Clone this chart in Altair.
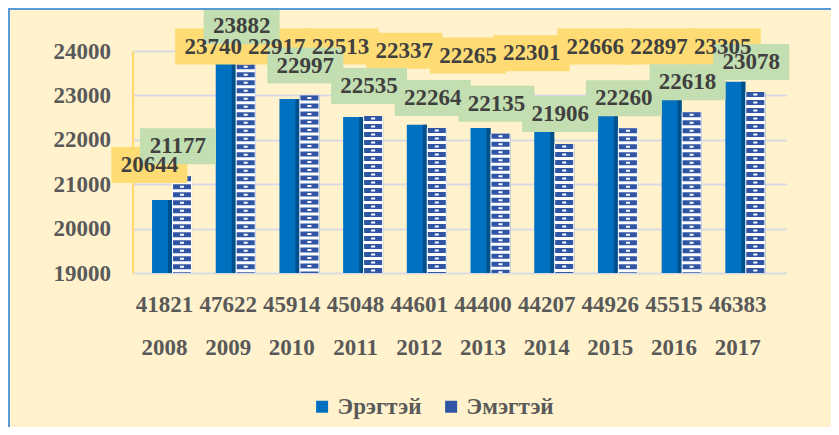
import altair as alt
import pandas as pd

years = ["2008", "2009", "2010", "2011", "2012", "2013", "2014", "2015", "2016", "2017"]
totals = [41821, 47622, 45914, 45048, 44601, 44400, 44207, 44926, 45515, 46383]
male = [20644, 23740, 22917, 22513, 22337, 22265, 22301, 22666, 22897, 23305]
female = [21177, 23882, 22997, 22535, 22264, 22135, 21906, 22260, 22618, 23078]
series_names = ["Эрэгтэй", "Эмэгтэй"]
y_ticks = [19000, 20000, 21000, 22000, 23000, 24000]

cats = [f"{t} {y}" for t, y in zip(totals, years)]
rows = []
for c, m, f in zip(cats, male, female):
    rows.append({"cat": c, "series": series_names[0], "value": m})
    rows.append({"cat": c, "series": series_names[1], "value": f})
df = pd.DataFrame(rows)

FONT = "'Liberation Serif', 'Times New Roman', 'DejaVu Serif', serif"
MALE_C = "#0070C0"
FEM_C = "#2F55A4"
BG = "#FFF2CC"

W, H = 654, 222
PL, PT = 124.6, 43

x_enc = alt.X(
    "cat:N", sort=cats, title=None,
    scale=alt.Scale(paddingInner=0, paddingOuter=0.1334, align=0),
    axis=alt.Axis(labelExpr="split(datum.value, ' ')", labelLineHeight=43,
                  labelPadding=20, labelFont=FONT, labelFontSize=23,
                  labelFontWeight="bold", labelColor="#595959", labelAngle=0,
                  domain=False, ticks=False, grid=False),
)
y_enc = alt.Y(
    "value:Q", title=None,
    scale=alt.Scale(domain=[19000, 24000], nice=False, zero=False),
    axis=alt.Axis(values=y_ticks, format="d", labelFont=FONT, labelFontSize=23,
                  labelFontWeight="bold", labelColor="#595959", labelPadding=22,
                  ticks=False, domainColor="#FFD966", domainWidth=2,
                  gridColor="#D9DBE3", gridWidth=2),
)

base = alt.Chart(df)

bars = base.mark_bar().encode(
    x=x_enc,
    xOffset=alt.XOffset("series:N", sort=series_names,
                        scale=alt.Scale(paddingInner=0, paddingOuter=0.5925, align=0.82)),
    y=y_enc,
    y2=alt.datum(19000),
    color=alt.Color("series:N", sort=series_names,
                    scale=alt.Scale(domain=series_names, range=[MALE_C, FEM_C]),
                    legend=alt.Legend(title=None, orient="none", direction="horizontal",
                                      legendX=178, legendY=344, symbolType="square",
                                      symbolSize=144, symbolStrokeWidth=0,
                                      labelFont=FONT, labelFontSize=23,
                                      labelFontWeight="bold", labelColor="#595959",
                                      labelOffset=4, columnPadding=18)),
)

male_df = base.transform_filter(alt.datum.series == series_names[0])
fem_df = base.transform_filter(alt.datum.series == series_names[1])

male_side = male_df.mark_rule(strokeWidth=4, color="#00508C", xOffset=5.55).encode(
    x=alt.X("cat:N", sort=cats), y="value:Q", y2=alt.datum(19000))

fem_white = fem_df.mark_bar(width=20, xOffset=17.55, color="#FFFFFF").encode(
    x=alt.X("cat:N", sort=cats), y="value:Q", y2=alt.datum(19000))
fem_pat1 = fem_df.mark_rule(strokeWidth=18, strokeDash=[5, 3], color=FEM_C, xOffset=17.55).encode(
    x=alt.X("cat:N", sort=cats), y="value:Q", y2=alt.datum(19000))
fem_pat2 = fem_df.mark_rule(strokeWidth=4, strokeDash=[2, 6], strokeDashOffset=-1.5,
                            color="#FFFFFF", xOffset=17.55).encode(
    x=alt.X("cat:N", sort=cats), y="value:Q", y2=alt.datum(19000))

# label anchors: male labels float in a row near the top (lower for short bars),
# female labels sit a fixed distance above their bars
male_lab = male_df.transform_calculate(lab="min(24100, 23950 + 1.52 * (datum.value - 22300))")
fem_lab = fem_df.transform_calculate(lab="datum.value")

M_DX, M_DY = -15, 0
F_DX, F_DY = 13.5, -30

male_box = male_lab.mark_bar(width=76, xOffset=M_DX, yOffset=M_DY - 18, y2Offset=M_DY + 18,
                             color="#FFDC73").encode(
    x=alt.X("cat:N", sort=cats), y="lab:Q", y2="lab:Q")
male_txt = male_lab.mark_text(dx=M_DX, dy=M_DY, font=FONT, fontSize=23, fontWeight="bold",
                              color="#404040", baseline="middle", align="center").encode(
    x=alt.X("cat:N", sort=cats), y="lab:Q", text="value:Q")
fem_box = fem_lab.mark_bar(width=76, xOffset=F_DX, yOffset=F_DY - 18, y2Offset=F_DY + 18,
                           color="#C3DFB1").encode(
    x=alt.X("cat:N", sort=cats), y="lab:Q", y2="lab:Q")
fem_txt = fem_lab.mark_text(dx=F_DX, dy=F_DY, font=FONT, fontSize=23, fontWeight="bold",
                            color="#404040", baseline="middle", align="center").encode(
    x=alt.X("cat:N", sort=cats), y="lab:Q", text="value:Q")

frame_df = alt.Chart(pd.DataFrame({"k": [0]}))
left_line = frame_df.mark_rule(color="#5B9BD5", strokeWidth=2).encode(
    x=alt.value(-PL + 1), y=alt.value(-PT), y2=alt.value(H + 200))
top_line = frame_df.mark_rule(color="#5B9BD5", strokeWidth=2).encode(
    x=alt.value(-PL), x2=alt.value(W + 100), y=alt.value(-PT + 1))

chart = alt.layer(
    bars, male_side, fem_white, fem_pat1, fem_pat2,
    male_box, fem_box, male_txt, fem_txt, left_line, top_line,
).properties(
    width=W, height=H,
    autosize=alt.AutoSizeParams(type="none"),
    padding={"left": PL, "top": PT, "right": 823 - PL - W, "bottom": 419 - PT - H},
    background=BG,
).configure_view(stroke=None)

chart.save("out.html", embed_options={"renderer": "svg", "actions": False})
